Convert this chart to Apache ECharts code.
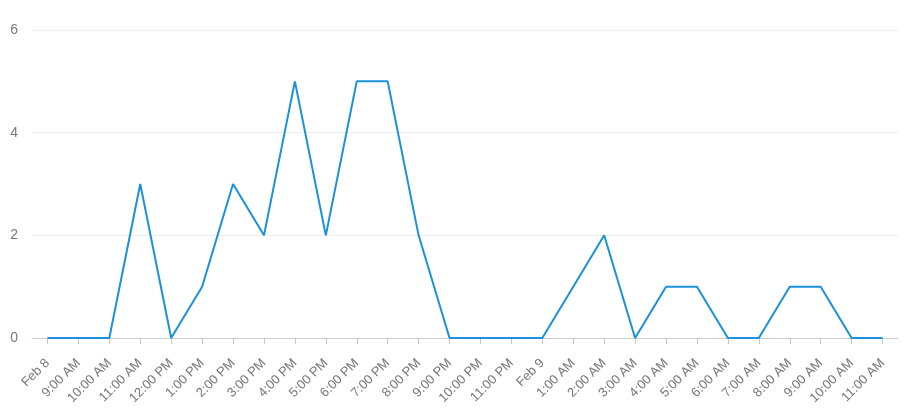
<!DOCTYPE html>
<html><head><meta charset="utf-8">
<script src="https://cdn.jsdelivr.net/npm/echarts@6/dist/echarts.min.js"></script>
<style>html,body{margin:0;padding:0;background:#fff}#c{width:905px;height:416px}</style>
</head><body><div id="c"></div>
<script>
const categories = ["Feb 8","9:00 AM","10:00 AM","11:00 AM","12:00 PM","1:00 PM","2:00 PM","3:00 PM","4:00 PM","5:00 PM","6:00 PM","7:00 PM","8:00 PM","9:00 PM","10:00 PM","11:00 PM","Feb 9","1:00 AM","2:00 AM","3:00 AM","4:00 AM","5:00 AM","6:00 AM","7:00 AM","8:00 AM","9:00 AM","10:00 AM","11:00 AM"];
const values = [0,0,0,3,0,1,3,2,5,2,5,5,2,0,0,0,0,1,2,0,1,1,0,0,1,1,0,0];
const chart = echarts.init(document.getElementById('c'), null, {renderer:'canvas'});
chart.setOption({
  animation:false,
  grid:{left:32,right:7,top:30,bottom:78,containLabel:false},
  xAxis:{type:'category',data:categories,boundaryGap:true,
    axisLine:{show:true,lineStyle:{color:'#ccc'}},
    axisTick:{show:true,alignWithLabel:true,length:6,lineStyle:{color:'#c8c8c8'}},
    axisLabel:{interval:0,rotate:45,margin:23,color:'#777',fontSize:13,fontFamily:'Arial, Liberation Sans, sans-serif'}},
  yAxis:{type:'value',min:0,max:6,interval:2,
    axisLine:{show:false},axisTick:{show:false},
    splitLine:{lineStyle:{color:'#eee'}},
    axisLabel:{color:'#777',fontSize:14,margin:14,fontFamily:'Arial, Liberation Sans, sans-serif'}},
  series:[{type:'line',data:values,showSymbol:false,lineStyle:{color:'#1a91d8',width:2},itemStyle:{color:'#1a91d8'}}]
});
</script></body></html>
